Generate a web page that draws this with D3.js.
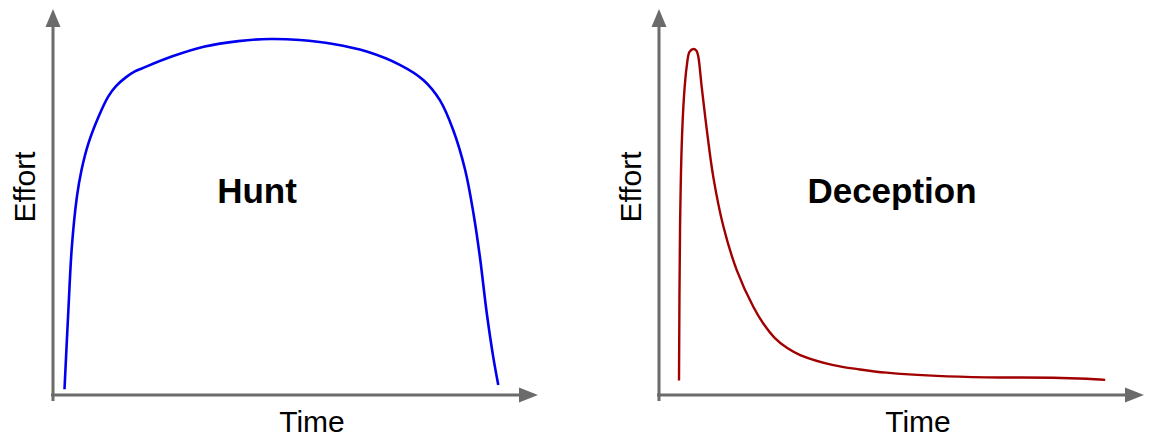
<!DOCTYPE html>
<html>
<head>
<meta charset="utf-8">
<script src="https://cdn.jsdelivr.net/npm/d3@7"></script>
<style>
html,body{margin:0;padding:0;background:#fff;}
svg{display:block;}
text{font-family:"Liberation Sans",Arial,sans-serif;}
</style>
</head>
<body>
<svg id="chart" width="1153" height="443"></svg>
<script>
// Hunt curve: time (0-100) vs effort (0-100)
const huntTime   = [2.5,3.3,4.1,5.2,6.2,7.7,9.9,12.0,13.7,15.9,17.8,19.3,25.8,33.0,40.3,47.2,53.7,60.9,68.2,75.4,80.5,84.1,87.0,89.6,91.4,92.8,94.3,95.7,96.8];
const huntEffort = [1.6,22.5,41.2,55.1,62.5,69.9,77.3,82.9,85.8,88.3,89.9,90.7,94.0,96.8,98.3,98.9,98.6,97.5,95.4,91.7,87.5,81.9,73.6,62.5,50.5,38.4,22.7,10.6,2.8];
// Deception curve
const decTime   = [4.35,4.57,4.93,5.43,6.02,6.63,7.46,8.15,8.54,9.28,10.4,11.8,14.0,16.9,20.5,22.6,25.2,27.8,30.7,37.9,43.7,49.5,60.4,71.2,85.7,93.0,97.0];
const decEffort = [4.0,45.8,69.0,82.9,91.2,95.3,96.1,95.6,94.0,85.6,73.6,60.6,46.8,34.7,24.5,20.0,15.8,13.1,11.1,8.3,7.1,6.2,5.3,4.9,4.8,4.5,4.2];
const panelTitles = ["Hunt","Deception"];
const xLabel = "Time";
const yLabel = "Effort";
const colors = ["#0000ee","#a00000"];

const svg = d3.select("#chart");
const axisColor = "#6b6b6b";

const panels = [
  {title: panelTitles[0], t: huntTime, e: huntEffort, color: colors[0], x0: 53, w: 2.6, tx: 257},
  {title: panelTitles[1], t: decTime,  e: decEffort,  color: colors[1], x0: 659, w: 2.4, tx: 892}
];

panels.forEach(p => {
  const x = d3.scaleLinear().domain([0,100]).range([p.x0, p.x0 + 460]);
  const y = d3.scaleLinear().domain([0,100]).range([395, 35]);
  const g = svg.append("g");
  const ax = x(0), ay = y(0);
  const xEnd = p.x0 + 466;
  // x axis
  g.append("line").attr("x1", ax - 2).attr("y1", ay).attr("x2", xEnd + 2).attr("y2", ay)
    .attr("stroke", axisColor).attr("stroke-width", 3);
  g.append("path").attr("d", `M${xEnd},${ay-7.5}L${xEnd+19},${ay}L${xEnd},${ay+7.5}Z`).attr("fill", axisColor);
  // y axis
  const yTop = 27;
  g.append("line").attr("x1", ax).attr("y1", ay + 6).attr("x2", ax).attr("y2", yTop - 2)
    .attr("stroke", axisColor).attr("stroke-width", 3);
  g.append("path").attr("d", `M${ax-7.5},${yTop}L${ax},${yTop-18}L${ax+7.5},${yTop}Z`).attr("fill", axisColor);

  const data = p.t.map((t,i) => [t, p.e[i]]);
  const line = d3.line().x(d => x(d[0])).y(d => y(d[1])).curve(d3.curveCatmullRom.alpha(0.5));
  g.append("path").datum(data).attr("d", line).attr("fill", "none")
    .attr("stroke", p.color).attr("stroke-width", p.w).attr("stroke-linecap", "butt");

  g.append("text").attr("x", ax + 259).attr("y", 432).attr("text-anchor", "middle")
    .attr("font-size", 30).attr("fill", "#000").text(xLabel);
  g.append("text").attr("transform", `translate(${ax - 18},187) rotate(-90)`)
    .attr("text-anchor", "middle").attr("font-size", 30).attr("fill", "#000").text(yLabel);
  g.append("text").attr("x", p.tx).attr("y", 203).attr("text-anchor", "middle")
    .attr("font-size", 35).attr("font-weight", "bold").attr("fill", "#000").text(p.title);
});
</script>
</body>
</html>
